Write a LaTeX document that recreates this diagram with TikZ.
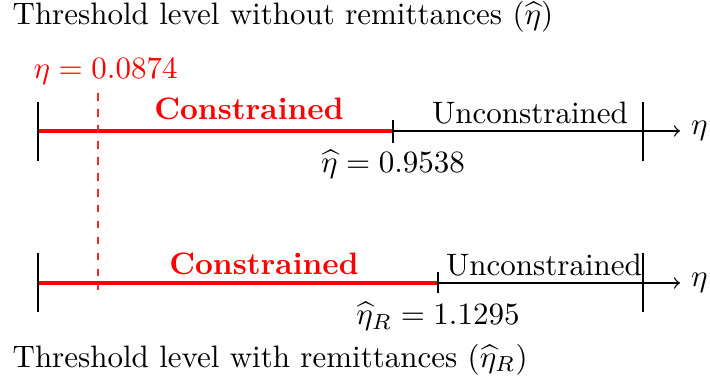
\documentclass[tikz,border=0pt]{standalone}
\usepackage{amsmath}
\begin{document}
\begin{tikzpicture}[x={(0.3226pt,0)},y={(0,-0.3226pt)},
  axisline/.style={line width=0.45pt,black},
  conline/.style={line width=1pt,red},
  tickmark/.style={line width=0.45pt,black},
  conlabel/.style={anchor=base,text=red,font=\bfseries},
  plainlabel/.style={anchor=base},
  titlelabel/.style={anchor=base west,inner sep=0pt},
  dashline/.style={red!85,line width=0.4pt,dash pattern=on 2.5pt off 2.65pt}]
\useasboundingbox (0,0) rectangle (710,381);
% titles
\node[titlelabel] (t1) at (12,25) {Threshold level without remittances ($\widehat{\eta}$)};
\node[titlelabel] (t2) at (12,367) {Threshold level with remittances ($\widehat{\eta}_R$)};
\node[titlelabel,text=red] (ev) at (33,79) {$\eta = 0.0874$};
% top axis
\coordinate (a0) at (38,131);
\coordinate (a1) at (393,131);
\coordinate (a2) at (643,131);
\coordinate (ae) at (680,131);
\coordinate (a0t) at (38,102); \coordinate (a0b) at (38,161);
\coordinate (a1t) at (393,120); \coordinate (a1b) at (393,143);
\coordinate (a2t) at (643,102); \coordinate (a2b) at (643,161);
\draw[axisline,->] (a1) -- (ae) node[right] (eta1) {$\eta$};
\draw[conline] (a0) -- (a1);
\draw[tickmark] (a0t) -- (a0b);
\draw[tickmark] (a1t) -- (a1b);
\draw[tickmark] (a2t) -- (a2b);
\node[conlabel] (c1) at (249,120) {Constrained};
\node[plainlabel] (u1) at (530,124) {Unconstrained};
\node[plainlabel] (h1) at (393,173) {$\widehat{\eta} = 0.9538$};
% bottom axis
\coordinate (b0) at (38,283);
\coordinate (b1) at (438,283);
\coordinate (b2) at (643,283);
\coordinate (be) at (680,283);
\coordinate (b0t) at (38,253); \coordinate (b0b) at (38,312);
\coordinate (b1t) at (438,272); \coordinate (b1b) at (438,293);
\coordinate (b2t) at (643,253); \coordinate (b2b) at (643,312);
\draw[axisline,->] (b1) -- (be) node[right] (eta2) {$\eta$};
\draw[conline] (b0) -- (b1);
\draw[tickmark] (b0t) -- (b0b);
\draw[tickmark] (b1t) -- (b1b);
\draw[tickmark] (b2t) -- (b2b);
\node[conlabel] (c2) at (264,275) {Constrained};
\node[plainlabel] (u2) at (544,276) {Unconstrained};
\node[plainlabel] (h2) at (438,325) {$\widehat{\eta}_R = 1.1295$};
% dashed marker
\coordinate (d0) at (98,93);
\coordinate (d1) at (98,290);
\draw[dashline] (d0) -- (d1);
\end{tikzpicture}
\end{document}
